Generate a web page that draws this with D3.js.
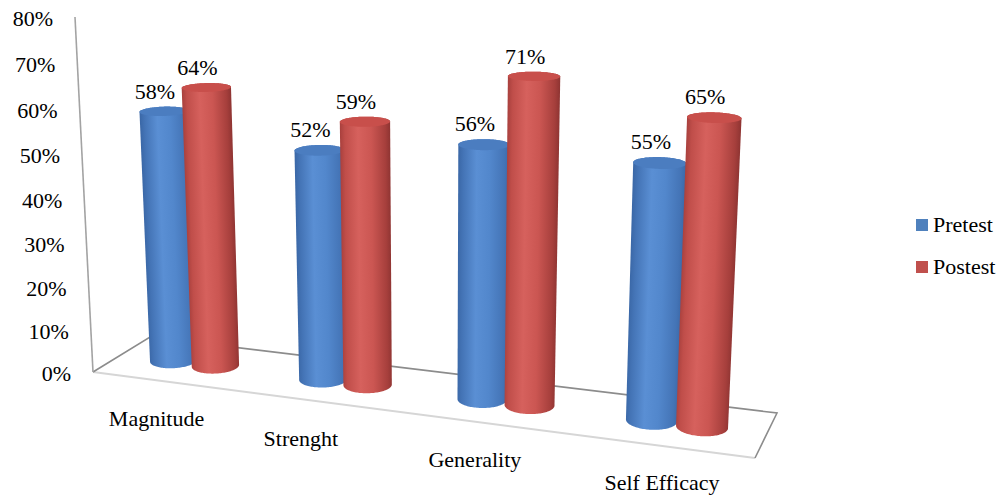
<!DOCTYPE html>
<html>
<head>
<meta charset="utf-8">
<script src="https://cdn.jsdelivr.net/npm/d3@7"></script>
<style>
  html, body { margin: 0; padding: 0; background: #ffffff; }
  svg { display: block; }
  text { font-family: "Liberation Serif", "Times New Roman", "DejaVu Serif", serif; }
</style>
</head>
<body>
<svg id="chart" width="1008" height="499"></svg>
<script>
// ---- data ----
const categories = ["Magnitude", "Strenght", "Generality", "Self Efficacy"];
const seriesNames = ["Pretest", "Postest"];
const pretestValues = [0.58, 0.52, 0.56, 0.55];
const postestValues = [0.64, 0.59, 0.71, 0.65];
const tickValues = [0, 0.1, 0.2, 0.3, 0.4, 0.5, 0.6, 0.7, 0.8];
const tickLabels = ["0%", "10%", "20%", "30%", "40%", "50%", "60%", "70%", "80%"];

// ---- scene layout (screen position of the plot floor and value axis) ----
const floorFL = [93, 372], floorFR = [755, 458], floorBR = [777, 413], floorBL = [150, 337];
const axisTopPt = [75, 17];
const verticalVanish = [436, 7135];
const floorDepth = 0.7;           // depth of floor, in category widths
const fontSize = 22;
const fontFamily = "'Liberation Serif', 'Times New Roman', 'DejaVu Serif', serif";

const seriesColor = { Pretest: "#4f81bd", Postest: "#c0504d" };
const bodyStops = {
  Pretest: [[0, "#3a67a6"], [0.1, "#4474b6"], [0.36, "#5a8fd4"], [0.62, "#5287cc"], [0.9, "#4474b6"], [1, "#3b68a7"]],
  Postest: [[0, "#a8403d"], [0.1, "#c04e4a"], [0.36, "#d6615d"], [0.62, "#cb5652"], [0.9, "#a63f3c"], [1, "#8e3432"]]
};
const topFill = { Pretest: "#4b7dc0", Postest: "#c84f4b" };

// ---- scales (world units) ----
const nCat = categories.length;
const xBand = d3.scaleBand().domain(categories).range([0, nCat]);
const xSeries = d3.scaleBand().domain(seriesNames).range([0, xBand.bandwidth()])
  .paddingInner(0).paddingOuter(0.75);
const yScale = d3.scaleLinear().domain([0, 0.8]).range([0, 1]);

// ---- perspective projection: floor homography + vertical vanishing point ----
function solveLinear(A, b) {
  const n = b.length;
  const M = A.map((row, i) => row.concat([b[i]]));
  for (let c = 0; c < n; c++) {
    let p = c;
    for (let r = c + 1; r < n; r++) if (Math.abs(M[r][c]) > Math.abs(M[p][c])) p = r;
    [M[c], M[p]] = [M[p], M[c]];
    for (let r = 0; r < n; r++) {
      if (r === c) continue;
      const f = M[r][c] / M[c][c];
      for (let k = c; k <= n; k++) M[r][k] -= f * M[c][k];
    }
  }
  return M.map((row, i) => row[n] / row[i]);
}
const worldCorners = [[0, 0], [nCat, 0], [nCat, floorDepth], [0, floorDepth]];
const screenCorners = [floorFL, floorFR, floorBR, floorBL];
const A = [], bvec = [];
worldCorners.forEach(([X, Z], i) => {
  const [x, y] = screenCorners[i];
  A.push([X, Z, 1, 0, 0, 0, -X * x, -Z * x]); bvec.push(x);
  A.push([0, 0, 0, X, Z, 1, -X * y, -Z * y]); bvec.push(y);
});
const Hm = solveLinear(A, bvec);
const [vx, vy] = verticalVanish;
const mu = (axisTopPt[1] - Hm[5]) / (vy - axisTopPt[1]);

function project(X, Y, Z) {
  const xh = Hm[0] * X + Hm[1] * Z + Hm[2] + mu * Y * vx;
  const yh = Hm[3] * X + Hm[4] * Z + Hm[5] + mu * Y * vy;
  const wh = Hm[6] * X + Hm[7] * Z + 1 + mu * Y;
  return [xh / wh, yh / wh];
}

const svg = d3.select("#chart");
const defs = svg.append("defs");
const line = d3.line();

// ---- floor outline and value axis ----
svg.append("path")
  .attr("d", line([project(0, 0, 0), project(nCat, 0, 0)]))
  .attr("fill", "none").attr("stroke", "#d6d6d6").attr("stroke-width", 2);
svg.append("path")
  .attr("d", line([project(0, 0, 0), project(0, 0, floorDepth), project(nCat, 0, floorDepth), project(nCat, 0, 0)]))
  .attr("fill", "none").attr("stroke", "#8c8c8c").attr("stroke-width", 1.6);
svg.append("path")
  .attr("d", line([project(0, 0, 0), project(0, yScale(0.8), 0)]))
  .attr("fill", "none").attr("stroke", "#a3a3a3").attr("stroke-width", 1.6);

// value axis tick labels
svg.append("g").selectAll("text")
  .data(tickValues)
  .join("text")
  .attr("x", d => project(0, yScale(d), 0)[0] - 22)
  .attr("y", d => project(0, yScale(d), 0)[1] + 9)
  .attr("text-anchor", "end")
  .attr("font-family", fontFamily)
  .attr("font-size", fontSize)
  .attr("fill", "#000")
  .text((d, i) => tickLabels[i]);

// category labels below the front edge
svg.append("g").selectAll("text")
  .data(categories)
  .join("text")
  .attr("x", d => project(xBand(d) + xBand.bandwidth() / 2, 0, 0)[0] - 58)
  .attr("y", d => project(xBand(d) + xBand.bandwidth() / 2, 0, 0)[1] + 44)
  .attr("text-anchor", "start")
  .attr("font-family", fontFamily)
  .attr("font-size", fontSize)
  .attr("fill", "#000")
  .text(d => d);

// ---- cylinders ----
const bars = [];
categories.forEach((c, i) => {
  seriesNames.forEach((s, j) => {
    const value = (j === 0 ? pretestValues : postestValues)[i];
    bars.push({ cat: c, series: s, value });
  });
});
const radius = xSeries.bandwidth() / 2;
const zCenter = floorDepth / 2;
const nSeg = 120;

bars.forEach((b, k) => {
  const Xc = xBand(b.cat) + xSeries(b.series) + xSeries.bandwidth() / 2;
  const Yt = yScale(b.value);
  const bottom = [], top = [];
  for (let i = 0; i < nSeg; i++) {
    const a = (i / nSeg) * Math.PI * 2;
    const X = Xc + radius * Math.cos(a), Z = zCenter + radius * Math.sin(a);
    bottom.push(project(X, 0, Z));
    top.push(project(X, Yt, Z));
  }
  b.hull = d3.polygonHull(bottom.concat(top));
  b.top = top;
  const c0 = project(Xc, 0, zCenter), c1 = project(Xc, Yt, zCenter);
  b.topCenter = c1;
  // shading runs across the cylinder, perpendicular to its projected axis
  const ax = c1[0] - c0[0], ay = c1[1] - c0[1];
  const len = Math.hypot(ax, ay);
  let px = -ay / len, py = ax / len;
  if (px < 0) { px = -px; py = -py; }
  const mid = [(c0[0] + c1[0]) / 2, (c0[1] + c1[1]) / 2];
  const proj = b.hull.map(p => (p[0] - mid[0]) * px + (p[1] - mid[1]) * py);
  const lo = d3.min(proj), hi = d3.max(proj);
  const gid = "grad" + k;
  const g = defs.append("linearGradient").attr("id", gid)
    .attr("gradientUnits", "userSpaceOnUse")
    .attr("x1", mid[0] + px * lo).attr("y1", mid[1] + py * lo)
    .attr("x2", mid[0] + px * hi).attr("y2", mid[1] + py * hi);
  g.selectAll("stop").data(bodyStops[b.series]).join("stop")
    .attr("offset", d => d[0]).attr("stop-color", d => d[1]);
  b.gid = gid;
  b.Xc = Xc;
});

// draw from far (left) to near (right)
const barG = svg.append("g").selectAll("g")
  .data(bars.slice().sort((a, b) => a.Xc - b.Xc))
  .join("g");
barG.append("path")
  .attr("d", d => line(d.hull) + "Z")
  .attr("fill", d => `url(#${d.gid})`);
barG.append("path")
  .attr("d", d => line(d.top) + "Z")
  .attr("fill", d => topFill[d.series]);

// value labels above each cylinder
svg.append("g").selectAll("text")
  .data(bars)
  .join("text")
  .attr("x", d => d.topCenter[0] - 9)
  .attr("y", d => d3.min(d.top, p => p[1]) - 8)
  .attr("text-anchor", "middle")
  .attr("font-family", fontFamily)
  .attr("font-size", fontSize)
  .attr("fill", "#000")
  .text(d => Math.round(d.value * 100) + "%");

// ---- legend ----
const legend = svg.append("g").selectAll("g")
  .data(seriesNames)
  .join("g")
  .attr("transform", (d, i) => `translate(916, ${219 + i * 42})`);
legend.append("rect").attr("width", 12).attr("height", 12)
  .attr("fill", d => seriesColor[d]);
legend.append("text").attr("x", 17).attr("y", 13)
  .attr("font-family", fontFamily)
  .attr("font-size", fontSize).attr("fill", "#000")
  .text(d => d);
</script>
</body>
</html>
